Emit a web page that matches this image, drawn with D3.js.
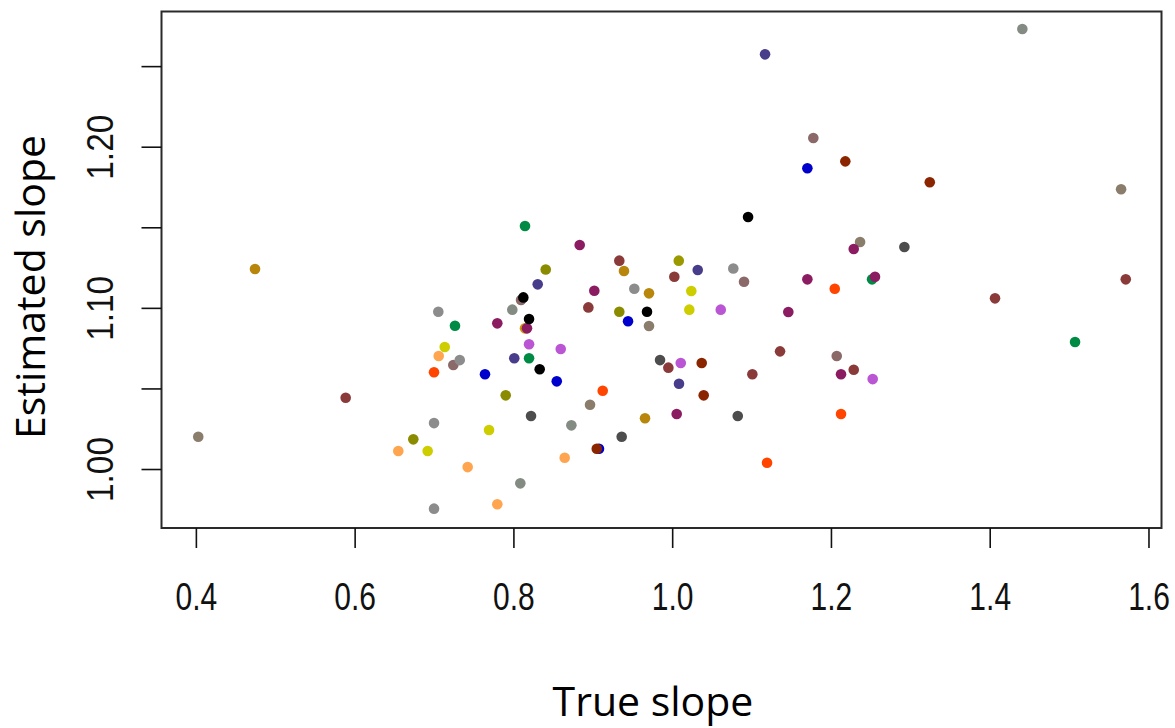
<!DOCTYPE html>
<html>
<head>
<meta charset="utf-8">
<script src="https://cdn.jsdelivr.net/npm/d3@7"></script>
<style>
  html, body { margin: 0; padding: 0; background: #fff; }
  svg { display: block; }
</style>
</head>
<body>
<svg id="chart" width="1175" height="728"></svg>
<script>
// ---- data ----
const trueSlope = [
  0.403, 0.4745, 0.5887, 0.655, 0.6739, 0.692, 0.700, 0.700, 0.700, 0.7059,
  0.7135, 0.7054, 0.7264, 0.7243, 0.7324, 0.7424, 0.7642, 0.7693, 0.7797, 0.7797,
  0.7903, 0.7986, 0.8011, 0.8087, 0.8096, 0.8125, 0.8146, 0.8146, 0.8171, 0.8197,
  0.8197, 0.8197, 0.8222, 0.8306, 0.8331, 0.8407, 0.8546, 0.8596, 0.8646, 0.873,
  0.8835, 0.8944, 0.8965, 0.9019, 0.9078, 0.905, 0.9125, 0.9334, 0.9334, 0.9364,
  0.9393, 0.9444, 0.9523, 0.9658, 0.9683, 0.9708, 0.9708, 0.9847, 0.9952, 1.0027,
  1.0057, 1.0083, 1.0086, 1.0108, 1.0216, 1.0241, 1.0322, 1.0372, 1.0397, 1.0612,
  1.077, 1.0826, 1.0905, 1.0956, 1.101, 1.117, 1.1195, 1.1359, 1.1463, 1.1703,
  1.1703, 1.1778, 1.2048, 1.2073, 1.2127, 1.2127, 1.2181, 1.2367, 1.2287, 1.2287,
  1.2518, 1.2555, 1.2526, 1.2925, 1.3245, 1.4067, 1.4411, 1.5075, 1.5655, 1.5714
];
const estimatedSlope = [
  1.0200, 1.1241, 1.0442, 1.0112, 1.0184, 1.0112, 1.0285, 0.9754, 1.0600, 1.0701,
  1.0757, 1.0976, 1.0889, 1.0645, 1.0676, 1.0012, 1.0588, 1.0242, 1.0904, 0.9781,
  1.0457, 1.0989, 1.0687, 0.9911, 1.1049, 1.1065, 1.1508, 1.0873, 1.0873, 1.0931,
  1.0774, 1.0687, 1.0329, 1.1146, 1.0619, 1.1238, 1.0544, 1.0745, 1.0070, 1.0271,
  1.1390, 1.1003, 1.0399, 1.1106, 1.0126, 1.0126, 1.0486, 1.1293, 1.0976, 1.0200,
  1.1229, 1.0917, 1.1119, 1.0315, 1.0976, 1.1090, 1.0887, 1.0676, 1.0629, 1.1193,
  1.0341, 1.1293, 1.0529, 1.0658, 1.0989, 1.1105, 1.1235, 1.0658, 1.0457, 1.0989,
  1.1244, 1.0329, 1.1162, 1.1564, 1.0588, 1.2573, 1.0039, 1.0730, 1.0974, 1.1866,
  1.1177, 1.2054, 1.1119, 1.0701, 1.0588, 1.0341, 1.1909, 1.1409, 1.1365, 1.0616,
  1.1177, 1.1193, 1.0558, 1.1378, 1.1779, 1.1059, 1.2730, 1.0788, 1.1736, 1.1177
];
const pointColour = [
  "#8B7D6B", "#B8860B", "#8B3A3A", "#FFA54F", "#8B8B00", "#CDCD00", "#8C8C8C", "#8C8C8C", "#FF4500", "#FFA54F",
  "#CDCD00", "#8C8C8C", "#008B45", "#8B6969", "#8C8C8C", "#FFA54F", "#0000CD", "#CDCD00", "#8B1C62", "#FFA54F",
  "#8B8B00", "#838B83", "#483D8B", "#838B83", "#8B6969", "#000000", "#008B45", "#CD950C", "#8B1C62", "#000000",
  "#BA55D3", "#008B45", "#4D4D4D", "#483D8B", "#000000", "#8B8B00", "#0000CD", "#BA55D3", "#FFA54F", "#838B83",
  "#8B1C62", "#8B3A3A", "#8B7D6B", "#8B1C62", "#0000CD", "#8B2500", "#FF4500", "#8B3A3A", "#8B8B00", "#4D4D4D",
  "#B8860B", "#0000CD", "#8C8C8C", "#B8860B", "#000000", "#B8860B", "#8B7D6B", "#4D4D4D", "#8B3A3A", "#8B3A3A",
  "#8B1C62", "#9A9A00", "#483D8B", "#BA55D3", "#CDCD00", "#CDCD00", "#483D8B", "#8B2500", "#8B2500", "#BA55D3",
  "#8C8C8C", "#4D4D4D", "#8B6969", "#000000", "#8B3A3A", "#483D8B", "#FF4500", "#8B3A3A", "#8B1C62", "#0000CD",
  "#8B1C62", "#8B6969", "#FF4500", "#8B6969", "#8B1C62", "#FF4500", "#8B2500", "#8B7D6B", "#8B1C62", "#8B3A3A",
  "#008B45", "#8B1C62", "#BA55D3", "#4D4D4D", "#8B2500", "#8B3A3A", "#838B83", "#008B45", "#8B7D6B", "#8B3A3A"
];
const xTicks = [0.4, 0.6, 0.8, 1.0, 1.2, 1.4, 1.6];
const yTicks = [1.00, 1.05, 1.10, 1.15, 1.20, 1.25];
const yTickLabels = [1.00, 1.10, 1.20];
const xTitle = "True slope";
const yTitle = "Estimated slope";
const xDomain = [0.3567, 1.6164];
const yDomain = [0.9634, 1.2839];

// ---- layout ----
const plotL = 161.5, plotR = 1161.5, plotT = 11.5, plotB = 528;
const svg = d3.select("#chart");

const x = d3.scaleLinear().domain(xDomain).range([plotL, plotR]);
const y = d3.scaleLinear().domain(yDomain).range([plotB, plotT]);

// points
const pts = trueSlope.map((v, i) => ({ x: v, y: estimatedSlope[i], c: pointColour[i] }));
svg.append("g").selectAll("circle").data(pts).join("circle")
  .attr("cx", d => x(d.x))
  .attr("cy", d => y(d.y))
  .attr("r", 5.3)
  .attr("fill", d => d.c);

// frame
svg.append("rect")
  .attr("x", plotL).attr("y", plotT)
  .attr("width", plotR - plotL).attr("height", plotB - plotT)
  .attr("fill", "none").attr("stroke", "#2a2a2a").attr("stroke-width", 2);

// x axis
const gx = svg.append("g").attr("transform", `translate(0,${plotB})`)
  .call(d3.axisBottom(x).tickValues(xTicks).tickSize(20).tickSizeOuter(0).tickFormat(d3.format(".1f")));
gx.select(".domain").remove();
gx.selectAll(".tick line").attr("stroke", "#111").attr("stroke-width", 1.6);
gx.selectAll(".tick text")
  .attr("y", 0).attr("dy", 0)
  .attr("transform", "translate(0,82) scale(1,1.27)")
  .attr("fill", "#111")
  .style("font-family", "'Liberation Sans', Arial, sans-serif")
  .style("font-size", "30px");

// y axis
const gy = svg.append("g").attr("transform", `translate(${plotL},0)`)
  .call(d3.axisLeft(y).tickValues(yTicks).tickSize(20).tickSizeOuter(0)
    .tickFormat(d => yTickLabels.some(v => Math.abs(v - d) < 1e-9) ? d3.format(".2f")(d) : ""));
gy.select(".domain").remove();
gy.selectAll(".tick line").attr("stroke", "#111").attr("stroke-width", 1.6);
gy.selectAll(".tick text")
  .attr("x", null).attr("dy", 0)
  .attr("transform", "translate(-48.5,0) rotate(-90)")
  .attr("text-anchor", "middle")
  .attr("fill", "#111")
  .style("font-family", "'Liberation Sans', Arial, sans-serif")
  .style("font-size", "37px")
  .each(function(d) { if (this.textContent) { d3.select(this).attr("textLength", 65).attr("lengthAdjust", "spacingAndGlyphs"); } });

// titles
svg.append("text")
  .attr("x", 653).attr("y", 716)
  .attr("text-anchor", "middle")
  .style("font-family", "'Open Sans', sans-serif")
  .style("font-size", "41px")
  .attr("fill", "#000")
  .text(xTitle);

svg.append("text")
  .attr("transform", "translate(45,287) rotate(-90)")
  .attr("text-anchor", "middle")
  .style("font-family", "'Open Sans', sans-serif")
  .style("font-size", "41px")
  .attr("fill", "#000")
  .text(yTitle);
</script>
</body>
</html>
